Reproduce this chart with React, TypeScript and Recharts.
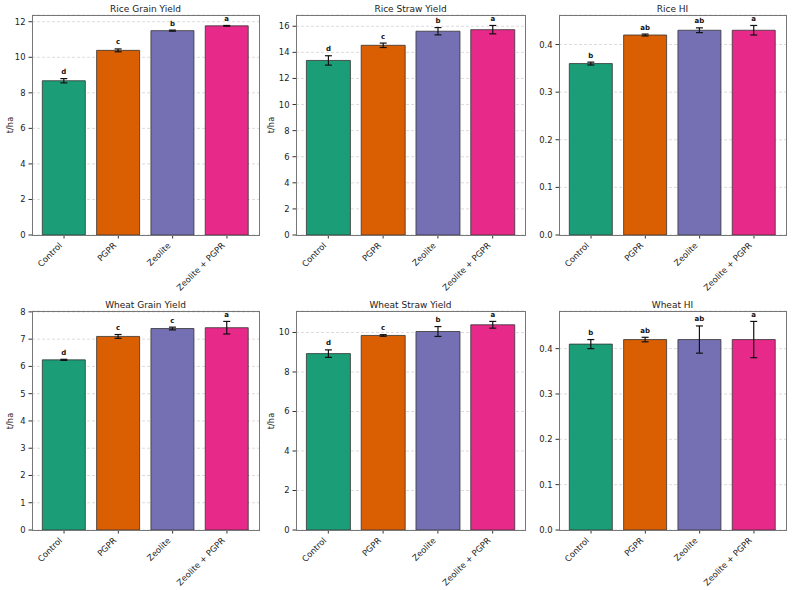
import { Bar, BarChart, CartesianGrid, Cell, ErrorBar, LabelList, XAxis, YAxis } from 'recharts';

const FONT = '"DejaVu Sans", sans-serif';

const TREATMENTS = ['Control', 'PGPR', 'Zeolite', 'Zeolite + PGPR'];
const COLORS = ['#1b9e77', '#d95f02', '#7570b3', '#e7298a'];

// means, standard deviations and significance letters per trait
const riceGrain = [8.68, 10.39, 11.5, 11.77];
const riceGrainSd = [0.12, 0.08, 0.03, 0.02];
const riceGrainLetters = ['d', 'c', 'b', 'a'];

const riceStraw = [13.38, 14.54, 15.62, 15.74];
const riceStrawSd = [0.36, 0.17, 0.28, 0.32];
const riceStrawLetters = ['d', 'c', 'b', 'a'];

const riceHI = [0.36, 0.42, 0.43, 0.43];
const riceHISd = [0.003, 0.002, 0.005, 0.01];
const riceHILetters = ['b', 'ab', 'ab', 'a'];

const wheatGrain = [6.24, 7.1, 7.39, 7.42];
const wheatGrainSd = [0.02, 0.07, 0.05, 0.23];
const wheatGrainLetters = ['d', 'c', 'c', 'a'];

const wheatStraw = [8.93, 9.85, 10.05, 10.39];
const wheatStrawSd = [0.19, 0.04, 0.25, 0.17];
const wheatStrawLetters = ['d', 'c', 'b', 'a'];

const wheatHI = [0.41, 0.42, 0.42, 0.42];
const wheatHISd = [0.01, 0.005, 0.03, 0.04];
const wheatHILetters = ['b', 'ab', 'ab', 'a'];

const TICKS_12 = [0, 2, 4, 6, 8, 10, 12];
const TICKS_16 = [0, 2, 4, 6, 8, 10, 12, 14, 16];
const TICKS_8 = [0, 1, 2, 3, 4, 5, 6, 7, 8];
const TICKS_10 = [0, 2, 4, 6, 8, 10];
const TICKS_HI = [0, 0.1, 0.2, 0.3, 0.4];

const PANELS = [
  { title: 'Rice Grain Yield', mean: riceGrain, sd: riceGrainSd, letters: riceGrainLetters, ticks: TICKS_12, digits: 0, unit: 't/ha', row: 0, col: 0 },
  { title: 'Rice Straw Yield', mean: riceStraw, sd: riceStrawSd, letters: riceStrawLetters, ticks: TICKS_16, digits: 0, unit: 't/ha', row: 0, col: 1 },
  { title: 'Rice HI', mean: riceHI, sd: riceHISd, letters: riceHILetters, ticks: TICKS_HI, digits: 1, unit: '', row: 0, col: 2 },
  { title: 'Wheat Grain Yield', mean: wheatGrain, sd: wheatGrainSd, letters: wheatGrainLetters, ticks: TICKS_8, digits: 0, unit: 't/ha', row: 1, col: 0 },
  { title: 'Wheat Straw Yield', mean: wheatStraw, sd: wheatStrawSd, letters: wheatStrawLetters, ticks: TICKS_10, digits: 0, unit: 't/ha', row: 1, col: 1 },
  { title: 'Wheat HI', mean: wheatHI, sd: wheatHISd, letters: wheatHILetters, ticks: TICKS_HI, digits: 1, unit: '', row: 1, col: 2 },
];

// axes rectangles of the 2x3 grid
const COL_LEFT = [32, 296, 559];
const COL_RIGHT = [259, 525, 786];
const ROW_TOP = [15, 311];
const ROW_BOTTOM = [235, 530];
const YLABEL_GAP = [22, 25, 0];

const AX_W = 32;
const PAD_TOP = 4;
const PAD_RIGHT = 4;
const X_H = 62;

function XTick({ x, y, payload }: any) {
  return (
    <g transform={`translate(${x - 1.5},${y + 7.5})`}>
      <text textAnchor="end" transform="rotate(-45)" fontSize={8.4} fill="#222" fontFamily={FONT}>
        {payload.value}
      </text>
    </g>
  );
}

function Panel({ p }: { p: (typeof PANELS)[number] }) {
  const left = COL_LEFT[p.col];
  const top = ROW_TOP[p.row];
  const plotW = COL_RIGHT[p.col] - left;
  const plotH = ROW_BOTTOM[p.row] - top;

  const data = TREATMENTS.map((name, i) => ({
    name,
    mean: p.mean[i],
    sd: p.sd[i],
    letter: p.letters[i],
  }));
  // matplotlib-style headroom: 5% above the tallest error bar
  const ymax = Math.max(...data.map((d) => d.mean + d.sd)) * 1.05;
  const pxPerUnit = plotH / ymax;
  const pad = (plotW * 0.09) / 4.18;

  const renderLetter = (props: any) => {
    const { x, y, width, index } = props;
    const errPx = data[index].sd * pxPerUnit;
    return (
      <text
        x={Number(x) + Number(width) / 2}
        y={Number(y) - errPx - 4.5}
        textAnchor="middle"
        fontSize={7}
        fontWeight="bold"
        fill="#111"
        fontFamily={FONT}
      >
        {data[index].letter}
      </text>
    );
  };

  return (
    <div style={{ position: 'absolute', left: left - AX_W, top: top - PAD_TOP }}>
      <BarChart
        width={plotW + AX_W + PAD_RIGHT}
        height={plotH + PAD_TOP + X_H}
        data={data}
        margin={{ top: PAD_TOP, right: PAD_RIGHT, bottom: 0, left: 0 }}
        barCategoryGap="10%"
      >
        <CartesianGrid vertical={false} stroke="#dcdcdc" strokeDasharray="3 2" />
        <XAxis
          dataKey="name"
          height={X_H}
          padding={{ left: pad, right: pad }}
          interval={0}
          axisLine={false}
          tickSize={3.5}
          tickMargin={0}
          tickLine={{ stroke: '#333' }}
          tick={<XTick />}
        />
        <YAxis
          type="number"
          width={AX_W}
          domain={[0, ymax]}
          ticks={p.ticks}
          allowDataOverflow
          axisLine={false}
          tickSize={3.5}
          tickMargin={3}
          tickLine={{ stroke: '#333' }}
          tickFormatter={(v: number) => v.toFixed(p.digits)}
          tick={{ fontSize: 8.4, fill: '#222', fontFamily: FONT }}
        />
        <Bar dataKey="mean" stroke="#333" strokeWidth={0.8} isAnimationActive={false}>
          {data.map((d, i) => (
            <Cell key={d.name} fill={COLORS[i]} />
          ))}
          <ErrorBar dataKey="sd" direction="y" width={3.5} stroke="#111" strokeWidth={1.2} isAnimationActive={false} />
          <LabelList dataKey="letter" content={renderLetter} />
        </Bar>
      </BarChart>
      <div
        style={{
          position: 'absolute',
          left: AX_W - 0.5,
          top: PAD_TOP - 0.5,
          width: plotW + 1,
          height: plotH + 1,
          border: '1px solid #777',
          boxSizing: 'border-box',
          pointerEvents: 'none',
        }}
      />
      <div
        style={{
          position: 'absolute',
          left: AX_W + plotW / 2,
          top: PAD_TOP - 6.5,
          transform: 'translate(-50%, -50%)',
          fontSize: 9,
          fontFamily: FONT,
          color: '#222',
          whiteSpace: 'nowrap',
        }}
      >
        {p.title}
      </div>
      {p.unit && (
        <div
          style={{
            position: 'absolute',
            left: AX_W - YLABEL_GAP[p.col],
            top: PAD_TOP + plotH / 2,
            transform: 'translate(-50%, -50%) rotate(-90deg)',
            fontSize: 8.4,
            fontFamily: FONT,
            color: '#222',
            whiteSpace: 'nowrap',
          }}
        >
          {p.unit}
        </div>
      )}
    </div>
  );
}

export default function App() {
  return (
    <div style={{ position: 'absolute', left: 0, top: 0, width: 792, height: 590, background: '#fff' }}>
      {PANELS.map((p) => (
        <Panel key={p.title} p={p} />
      ))}
    </div>
  );
}
